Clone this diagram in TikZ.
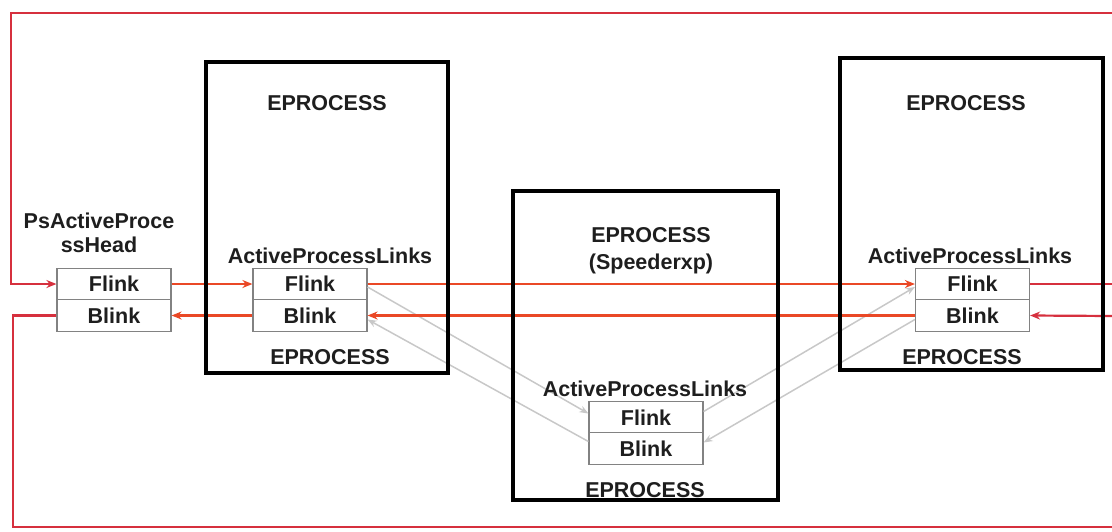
\documentclass[tikz,border=0pt]{standalone}
\usepackage{fontspec}
\setmainfont{Liberation Sans}
\usetikzlibrary{arrows.meta}
\definecolor{outerred}{RGB}{214,48,62}
\definecolor{innerred}{RGB}{234,72,38}
\definecolor{linkgray}{RGB}{200,200,200}
\definecolor{rowgray}{RGB}{130,130,130}
\definecolor{txt}{RGB}{30,30,30}
\tikzset{
  lbl/.style={inner sep=0pt, text height=15.4pt, text depth=0pt, text=txt,
    font=\fontsize{21.5}{25}\selectfont\bfseries},
  row/.style={draw=rowgray, line width=1.2pt, fill=white, minimum width=114pt,
    minimum height=31.5pt, inner sep=0pt, text=txt,
    font=\fontsize{21.5}{25}\selectfont\bfseries},
  procbox/.style={draw=black, line width=3.5pt, inner sep=0pt},
  tip/.style={-{Stealth[length=10pt,width=8pt]}},
  outerln/.style={draw=outerred, line width=2.2pt},
  innerln/.style={draw=innerred, line width=2.2pt},
  grayln/.style={draw=linkgray, line width=1.5pt, -{Stealth[length=9pt,width=7pt]}}
}
\begin{document}
\begin{tikzpicture}[x=1pt,y=-1pt]
\useasboundingbox (0,0) rectangle (1112,531);
% link rows
\node[row] (hF) at (114,284) {Flink};
\node[row] (hB) at (114,315.5) {Blink};
\node[row] (aF) at (310,284) {Flink};
\node[row] (aB) at (310,315.5) {Blink};
\node[row] (mF) at (646,417.5) {Flink};
\node[row] (mB) at (646,448.5) {Blink};
\node[row] (cF) at (972.5,284) {Flink};
\node[row] (cB) at (972.5,315.5) {Blink};
% free ends
\coordinate (tr) at (1112,13);
\coordinate (tl) at (11,13);
\coordinate (bl) at (13,527);
\coordinate (br) at (1112,527);
\coordinate (rF) at (1112,284);
\coordinate (rB) at (1112,316);
% old (gray) links through the hidden process
\draw[grayln] ([yshift=-3pt]aF.east) -- ([yshift=4pt]mF.west);
\draw[grayln] ([yshift=7pt]mB.west) -- ([yshift=-4pt]aB.east);
\draw[grayln] ([yshift=6pt]mF.east) -- ([yshift=-3pt]cF.west);
\draw[grayln] ([yshift=-4pt]cB.west) -- ([yshift=6pt]mB.east);
% red links
\draw[outerln,tip] (tr) -- (tl) |- (hF.west);
\draw[outerln] (hB.west) -| (bl) -- (br);
\draw[innerln,tip] (hF.east) -- (aF.west);
\draw[innerln,tip] (aF.east) -- (cF.west);
\draw[outerln] (cF.east) -- (rF);
\draw[outerln,tip] (rB) -- (cB.east);
\draw[innerln,tip] (cB.west) -- (aB.east);
\draw[innerln,tip] (aB.west) -- (hB.east);
% process boxes
\node[procbox, minimum width=242pt, minimum height=311pt] (p1) at (327,217.5) {};
\node[procbox, minimum width=265pt, minimum height=309pt] (p2) at (645.5,345.5) {};
\node[procbox, minimum width=263pt, minimum height=312pt] (p3) at (971.5,214) {};
% labels
\node[lbl] (hl1) at (99,221) {PsActiveProce};
\node[lbl] (hl2) at (99,245) {ssHead};
\node[lbl] (t1) at (327,103) {EPROCESS};
\node[lbl] (a1) at (330,256) {ActiveProcessLinks};
\node[lbl] (b1) at (330,357) {EPROCESS};
\node[lbl] (t2) at (651,235) {EPROCESS};
\node[lbl] (s2) at (651,262) {(Speederxp)};
\node[lbl] (a2) at (645,389) {ActiveProcessLinks};
\node[lbl] (b2) at (645,490) {EPROCESS};
\node[lbl] (t3) at (966,103) {EPROCESS};
\node[lbl] (a3) at (970,256) {ActiveProcessLinks};
\node[lbl] (b3) at (962,357) {EPROCESS};
\end{tikzpicture}
\end{document}
